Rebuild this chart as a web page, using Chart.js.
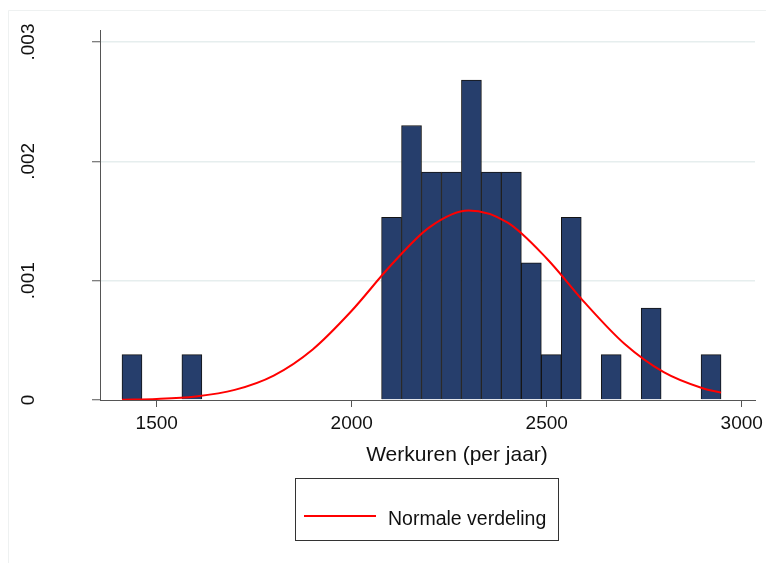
<!DOCTYPE html>
<html>
<head>
<meta charset="utf-8">
<title>Werkuren (per jaar)</title>
<script src="https://cdn.jsdelivr.net/npm/chart.js@4.4.1/dist/chart.umd.min.js"></script>
<style>
  html, body { margin: 0; padding: 0; background: #fff; }
</style>
</head>
<body>
<canvas id="histChart" width="766" height="563"></canvas>
<script>
// Histogram bins: midpoints (bin width ~51.2 hours)
const binMids = [
  1436.6, 1487.8, 1539.0, 1590.2, 1641.4, 1692.6, 1743.8, 1795.0, 1846.2, 1897.4,
  1948.6, 1999.8, 2051.0, 2102.2, 2153.4, 2204.6, 2255.8, 2307.0, 2358.2, 2409.4,
  2460.6, 2511.8, 2563.0, 2614.2, 2665.4, 2716.6, 2767.8, 2819.0, 2870.2, 2921.4,
];
// Density per bin
const density = [
  0.00038, 0, 0, 0.00038, 0, 0, 0, 0, 0, 0,
  0, 0, 0, 0.00153, 0.0023, 0.00191, 0.00191, 0.00268, 0.00191, 0.00191,
  0.00115, 0.00038, 0.00153, 0, 0.00038, 0, 0.00077, 0, 0, 0.00038,
];

// Normal density overlay
const normalX = [1411, 1500, 1600, 1700, 1800, 1900, 2000, 2100, 2200, 2300, 2400, 2500, 2600, 2700, 2800, 2900, 2947];
const normalY = [
  0.000003, 0.000009, 0.00003, 0.000085, 0.000205, 0.000424, 0.000748, 0.001127, 0.001449,
  0.001588, 0.001486, 0.001186, 0.000807, 0.000469, 0.000233, 0.000098, 0.000062,
];

const xTicks = [1500, 2000, 2500, 3000];
const yTicks = [0, 0.001, 0.002, 0.003];
const yTickLabels = ["0", ".001", ".002", ".003"];
const xTitle = "Werkuren (per jaar)";

const FONT = "'Liberation Sans', Arial, sans-serif";
Chart.defaults.font.family = FONT;
Chart.defaults.color = "#111";

// Stata-like frame, x title and boxed legend
const stataExtras = {
  id: "stataExtras",
  beforeDraw(chart) {
    const ctx = chart.ctx;
    ctx.save();
    ctx.fillStyle = "#fff";
    ctx.fillRect(0, 0, chart.width, chart.height);
    ctx.strokeStyle = "#eef1f1";
    ctx.lineWidth = 1;
    ctx.beginPath();
    ctx.moveTo(8.5, chart.height);
    ctx.lineTo(8.5, 10.5);
    ctx.lineTo(chart.width, 10.5);
    ctx.stroke();
    ctx.restore();
  },
  afterDraw(chart) {
    const ctx = chart.ctx;
    const line = chart.data.datasets[0];
    ctx.save();
    ctx.fillStyle = "#111";
    ctx.font = "21px " + FONT;
    ctx.textAlign = "center";
    ctx.textBaseline = "alphabetic";
    ctx.fillText(xTitle, 457, 461);

    // legend box
    ctx.strokeStyle = "#333";
    ctx.lineWidth = 1;
    ctx.strokeRect(295.5, 478.5, 263, 62);
    ctx.strokeStyle = line.borderColor;
    ctx.lineWidth = 2;
    ctx.beginPath();
    ctx.moveTo(304, 516);
    ctx.lineTo(376, 516);
    ctx.stroke();
    ctx.font = "19.5px " + FONT;
    ctx.textAlign = "left";
    ctx.fillText(line.label, 388, 525);
    ctx.restore();
  },
};

new Chart(document.getElementById("histChart"), {
  type: "bar",
  data: {
    datasets: [
      {
        type: "line",
        label: "Normale verdeling",
        data: normalX.map((x, i) => ({ x, y: normalY[i] })),
        borderColor: "#ff0000",
        borderWidth: 2,
        pointRadius: 0,
        cubicInterpolationMode: "monotone",
        fill: false,
        order: 0,
      },
      {
        type: "bar",
        label: "Werkuren",
        data: binMids.map((x, i) => ({ x, y: density[i] })),
        backgroundColor: "#263e6c",
        borderColor: "#141414",
        borderWidth: 1,
        barPercentage: 1,
        categoryPercentage: 1,
        order: 1,
      },
    ],
  },
  options: {
    responsive: false,
    animation: false,
    layout: { padding: { left: 8, right: 11, top: 30, bottom: 0 } },
    plugins: { legend: { display: false }, tooltip: { enabled: false } },
    scales: {
      x: {
        type: "linear",
        min: 1354.6,
        max: 3034.1,
        offset: false,
        afterBuildTicks: (s) => { s.ticks = xTicks.map((v) => ({ value: v })); },
        afterFit: (s) => { s.height = 163; s.paddingLeft = 0; s.paddingRight = 0; },
        grid: { drawOnChartArea: false, offset: false, tickLength: 7, tickColor: "#555", tickWidth: 1 },
        border: { color: "#555", width: 1 },
        ticks: { font: { size: 19 }, padding: 5, maxRotation: 0, autoSkip: false, callback: (v) => String(v) },
      },
      y: {
        min: 0,
        max: 0.0031006,
        afterBuildTicks: (s) => { s.ticks = yTicks.map((v) => ({ value: v })); },
        afterFit: (s) => { s.width = 92; s.paddingTop = 0; s.paddingBottom = 0; },
        grid: {
          color: (c) => (c.tick && c.tick.value === 0 ? "rgba(0,0,0,0)" : "#e6eeee"),
          lineWidth: 1.5,
          tickLength: 8,
          tickColor: "#555",
          tickWidth: 1,
        },
        border: { color: "#555", width: 1 },
        ticks: {
          font: { size: 19 },
          padding: 45,
          minRotation: 90,
          maxRotation: 90,
          crossAlign: "center",
          autoSkip: false,
          callback: (v, i) => yTickLabels[i],
        },
      },
    },
  },
  plugins: [stataExtras],
});
</script>
</body>
</html>
